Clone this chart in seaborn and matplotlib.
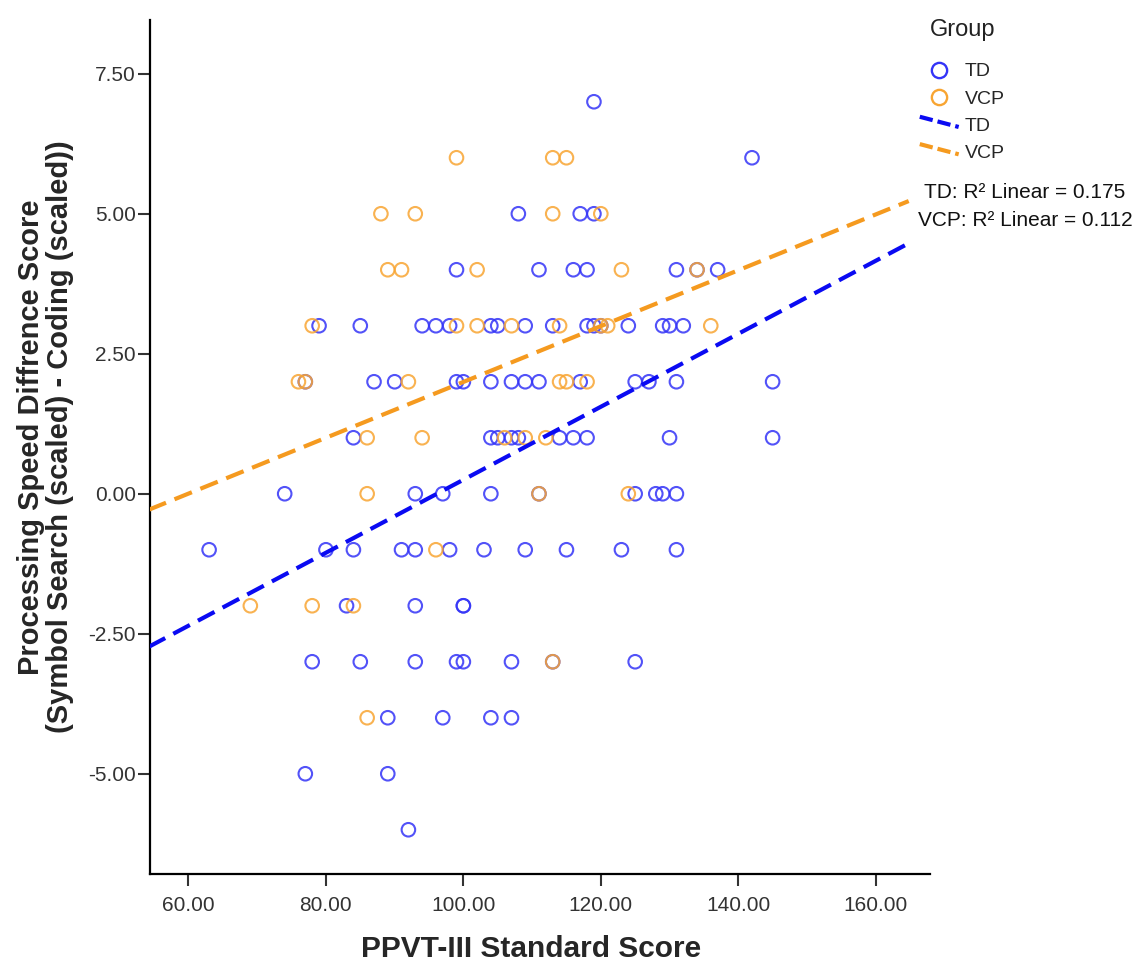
import matplotlib
matplotlib.use("Agg")
import matplotlib.pyplot as plt
import pandas as pd
import seaborn as sns
from matplotlib.lines import Line2D
from matplotlib.legend_handler import HandlerLine2D


# PPVT-III standard score (x) and processing speed difference (y), per group
td_ppvt = [119,
           142,
           108, 117, 119,
           99, 111, 116, 118, 131, 134, 137,
           79, 85, 94, 96, 98, 104, 105, 109, 113, 118, 119, 120, 124, 129, 130, 132,
           77, 87, 90, 99, 100, 104, 107, 109, 111, 117, 125, 127, 131, 145,
           84, 104, 105, 107, 108, 114, 116, 118, 130, 145,
           74, 93, 97, 104, 111, 125, 128, 129, 131,
           63, 80, 84, 91, 93, 98, 103, 109, 115, 123, 131,
           83, 93, 100, 100,
           78, 85, 93, 99, 100, 107, 113, 125,
           89, 97, 104, 107,
           77, 89,
           92]
td_speed = [7,
            6,
            5, 5, 5,
            4, 4, 4, 4, 4, 4, 4,
            3, 3, 3, 3, 3, 3, 3, 3, 3, 3, 3, 3, 3, 3, 3, 3,
            2, 2, 2, 2, 2, 2, 2, 2, 2, 2, 2, 2, 2, 2,
            1, 1, 1, 1, 1, 1, 1, 1, 1, 1,
            0, 0, 0, 0, 0, 0, 0, 0, 0,
            -1, -1, -1, -1, -1, -1, -1, -1, -1, -1, -1,
            -2, -2, -2, -2,
            -3, -3, -3, -3, -3, -3, -3, -3,
            -4, -4, -4, -4,
            -5, -5,
            -6]

vcp_ppvt = [99, 113, 115,
            88, 93, 113, 120,
            89, 91, 102, 123, 134,
            78, 99, 102, 107, 114, 120, 121, 136,
            76, 77, 92, 114, 115, 118,
            86, 94, 106, 109, 112,
            86, 111, 124,
            96,
            69, 78, 84,
            113,
            86]
vcp_speed = [6, 6, 6,
             5, 5, 5, 5,
             4, 4, 4, 4, 4,
             3, 3, 3, 3, 3, 3, 3, 3,
             2, 2, 2, 2, 2, 2,
             1, 1, 1, 1, 1,
             0, 0, 0,
             -1,
             -2, -2, -2,
             -3,
             -4]

groups = ["TD", "VCP"]
r2_linear = [0.175, 0.112]
x_ticks = [60, 80, 100, 120, 140, 160]
y_ticks = [-5.0, -2.5, 0.0, 2.5, 5.0, 7.5]

marker_colors = {"TD": "#3434f7", "VCP": "#f8a532"}
line_colors = {"TD": "#0a0af2", "VCP": "#f59a1f"}


class SlantedLine(HandlerLine2D):
    # SPSS draws the fit-line legend keys as short slanted dashes
    def create_artists(self, legend, orig_handle, xdescent, ydescent,
                       width, height, fontsize, trans):
        line = Line2D([-xdescent, width - xdescent],
                      [height * 1.05 - ydescent, height * 0.3 - ydescent])
        self.update_prop(line, orig_handle, legend)
        line.set_transform(trans)
        return [line]


df = pd.concat(
    [
        pd.DataFrame({"ppvt": td_ppvt, "speed": td_speed, "group": "TD"}),
        pd.DataFrame({"ppvt": vcp_ppvt, "speed": vcp_speed, "group": "VCP"}),
    ],
    ignore_index=True,
)

sns.set_theme(style="ticks")
plt.rcParams["font.family"] = ["Liberation Sans", "DejaVu Sans"]

fig = plt.figure(figsize=(11.42, 9.63), dpi=100)
ax = fig.add_axes([150 / 1142, 1 - 874 / 963, 780 / 1142, 854 / 963])

for g in groups:
    sub = df[df["group"] == g]
    sns.scatterplot(data=sub, x="ppvt", y="speed", ax=ax, s=95,
                    facecolor="none", edgecolor=marker_colors[g],
                    color=marker_colors[g], linewidth=1.5, alpha=0.85,
                    legend=False, zorder=2)

# fit lines span the drawn range, then the axis is widened a bit
ax.set_xlim(54.2, 164.8)
for g in groups:
    sub = df[df["group"] == g]
    sns.regplot(data=sub, x="ppvt", y="speed", ax=ax, scatter=False,
                ci=None, truncate=False, color=line_colors[g],
                line_kws={"linewidth": 3.0, "linestyle": (0, (4.5, 2.2)),
                          "zorder": 3})

ax.set_xlim(54.4, 167.9)
ax.set_ylim(-6.79, 8.46)
ax.set_xticks(x_ticks)
ax.set_yticks(y_ticks)
ax.set_xticklabels([f"{v:.2f}" for v in x_ticks])
ax.set_yticklabels([f"{v:.2f}" for v in y_ticks])
ax.tick_params(axis="both", labelsize=15, colors="#333333", length=8.5,
               width=1.5, direction="out")
ax.tick_params(axis="x", pad=7)
ax.tick_params(axis="y", pad=1.5)
sns.despine(ax=ax)
for side in ["left", "bottom"]:
    ax.spines[side].set_linewidth(1.6)
    ax.spines[side].set_color("black")

ax.set_xlabel("PPVT-III Standard Score", fontsize=21.5, fontweight="bold",
              va="top")
ax.xaxis.set_label_coords(0.488, -0.072)
ax.set_ylabel("Processing Speed Diffrence Score\n"
              "(Symbol Search (scaled) - Coding (scaled))",
              fontsize=21, fontweight="bold", linespacing=1.05)
ax.yaxis.set_label_coords(-0.097, 0.512)

fig.text(930 / 1142, 1 - 30 / 963, "Group", fontsize=17, ha="left",
         va="center", color="#222222")

handles = [
    Line2D([], [], marker="o", linestyle="none", markersize=11,
           markerfacecolor="none", markeredgecolor=marker_colors["TD"],
           markeredgewidth=1.7),
    Line2D([], [], marker="o", linestyle="none", markersize=11,
           markerfacecolor="none", markeredgecolor=marker_colors["VCP"],
           markeredgewidth=1.7),
    Line2D([], [], color=line_colors["TD"], linewidth=3.0,
           linestyle=(0, (3.2, 1.2))),
    Line2D([], [], color=line_colors["VCP"], linewidth=3.0,
           linestyle=(0, (3.2, 1.2))),
]
fig.legend(handles, ["TD", "VCP", "TD", "VCP"],
           handler_map={handles[2]: SlantedLine(), handles[3]: SlantedLine()},
           loc="upper left", bbox_to_anchor=(912 / 1142, 1 - 55 / 963),
           frameon=False, fontsize=14, borderaxespad=0, borderpad=0.4,
           handlelength=2.0, handletextpad=0.3, labelspacing=0.5)

for i, g in enumerate(groups):
    fig.text(1025 / 1142, 1 - (192 + 28 * i) / 963,
             f"{g}: R² Linear = {r2_linear[i]:.3f}",
             fontsize=15, ha="center", va="center", color="#111111")

fig.savefig("out.png", dpi=100)
